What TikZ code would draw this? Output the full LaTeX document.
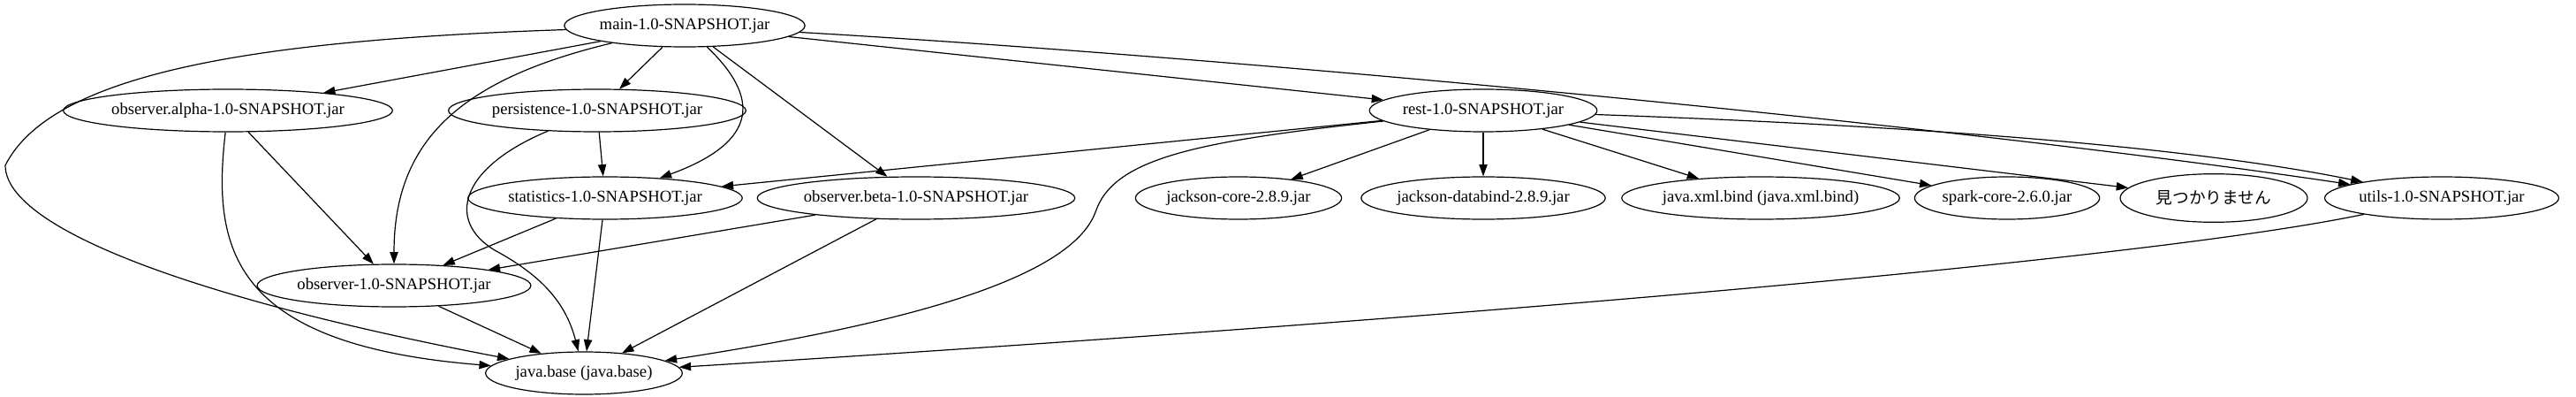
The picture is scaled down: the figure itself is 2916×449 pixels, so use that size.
\documentclass[tikz,border=0pt]{standalone}
\usepackage{fontspec}
\setmainfont{Liberation Serif}
\newfontfamily\jpfont{Noto Sans CJK JP}
\usepackage{tikz}
\usetikzlibrary{
    shapes.geometric,
    arrows.meta
}
\tikzset{
    jar/.style={draw, ellipse, line width=0.9pt, inner sep=0pt, minimum height=36pt,
        font=\fontsize{14}{16}\selectfont},
    dep/.style={-{Triangle[length=10pt,width=7pt]}, line width=0.9pt}
}

\begin{document}
\begin{tikzpicture}[x=0.75pt, y=-0.75pt]
        \fill[white] (0,0) rectangle (2916,449);
        \useasboundingbox (0,0) rectangle (2916,449);
        \node[jar, minimum width=201pt] (main) at (775,29) {main-1.0-SNAPSHOT.jar};
        \node[jar, minimum width=269pt] (alpha) at (258,125) {observer.alpha-1.0-SNAPSHOT.jar};
        \node[jar, minimum width=245pt] (persistence) at (676,125) {persistence-1.0-SNAPSHOT.jar};
        \node[jar, minimum width=193pt] (rest) at (1679,125) {rest-1.0-SNAPSHOT.jar};
        \node[jar, minimum width=226pt] (statistics) at (685,224) {statistics-1.0-SNAPSHOT.jar};
        \node[jar, minimum width=262pt] (beta) at (1037,224) {observer.beta-1.0-SNAPSHOT.jar};
        \node[jar, minimum width=175pt] (jcore) at (1402,224) {jackson-core-2.8.9.jar};
        \node[jar, minimum width=205pt] (jdatabind) at (1679,224) {jackson-databind-2.8.9.jar};
        \node[jar, minimum width=227pt] (xmlbind) at (1993,224) {java.xml.bind (java.xml.bind)};
        \node[jar, minimum width=157pt] (spark) at (2272,224) {spark-core-2.6.0.jar};
        \node[jar, minimum width=159pt, minimum height=41pt] (notfound) at (2506,224) {\jpfont 見つかりません};
        \node[jar, minimum width=194pt] (utils) at (2764,224) {utils-1.0-SNAPSHOT.jar};
        \node[jar, minimum width=227pt] (observer) at (446,323) {observer-1.0-SNAPSHOT.jar};
        \node[jar, minimum width=167pt] (javabase) at (661,422) {java.base (java.base)};

        \draw[dep] (main) -- (alpha);
        \draw[dep] (main) -- (persistence);
        \draw[dep] (main) -- (beta);
        \draw[dep] (main) -- (rest);
        \draw[dep] (main) .. controls (1400,65) and (2200,140) .. (utils);
        \draw[dep] (main) .. controls (860,110) and (860,160) .. (statistics);
        \draw[dep] (main) .. controls (520,90) and (446,160) .. (observer);
        \draw[dep] (main) .. controls (300,45) and (60,80) .. (6,187)
            .. controls (6,260) and (230,340) .. (javabase);
        \draw[dep] (alpha) -- (observer);
        \draw[dep] (alpha) .. controls (240,280) and (260,390) .. (javabase);
        \draw[dep] (persistence) -- (statistics);
        \draw[dep] (persistence) .. controls (520,190) and (505,250) .. (560,283)
            .. controls (610,310) and (640,340) .. (javabase);
        \draw[dep] (statistics) -- (observer);
        \draw[dep] (statistics) -- (javabase);
        \draw[dep] (beta) -- (observer);
        \draw[dep] (beta) -- (javabase);
        \draw[dep] (observer) -- (javabase);
        \draw[dep] (rest) -- (statistics);
        \draw[dep] (rest) .. controls (1350,160) and (1260,180) .. (1240,240)
            .. controls (1210,320) and (1000,370) .. (javabase);
        \draw[dep] (rest) -- (jcore);
        \draw[dep] (rest) -- (jdatabind);
        \draw[dep] (rest) -- (xmlbind);
        \draw[dep] (rest) -- (spark);
        \draw[dep] (rest) -- (notfound);
        \draw[dep] (rest) .. controls (2100,140) and (2450,160) .. (utils);
        \draw[dep] (utils) .. controls (2400,300) and (1500,370) .. (javabase);
    \end{tikzpicture}
\end{document}
